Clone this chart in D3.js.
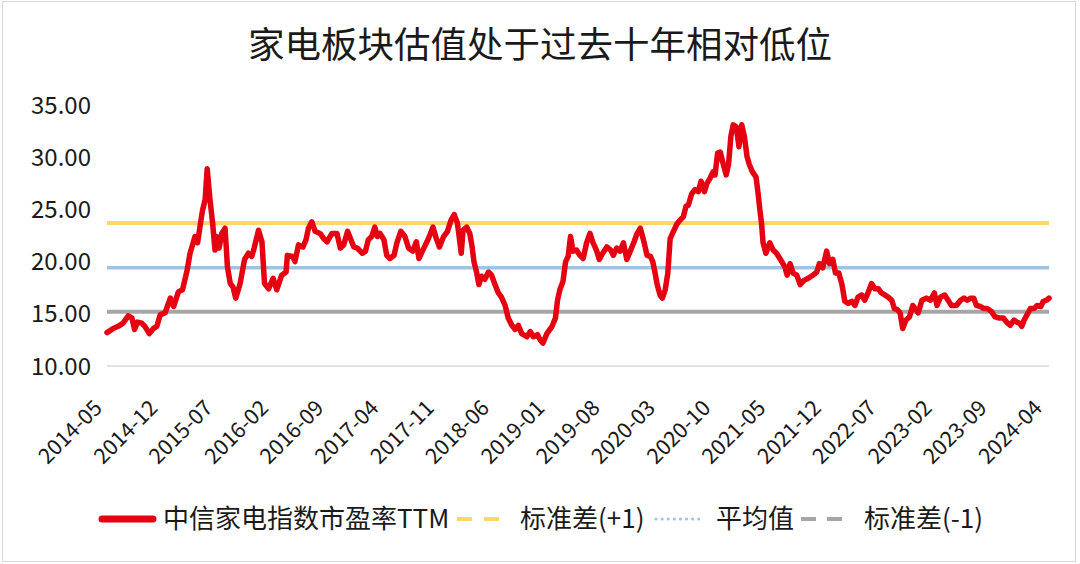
<!DOCTYPE html>
<html>
<head>
<meta charset="utf-8">
<script src="https://cdn.jsdelivr.net/npm/d3@7/dist/d3.min.js"></script>
<style>
  body { margin: 0; background: #fff; }
  text { font-family: "Noto Sans CJK SC", "Noto Sans", sans-serif; }
</style>
</head>
<body>
<div class="canvas"></div>
<script>
const title = '家电板块估值处于过去十年相对低位';

// 中信家电指数 PE(TTM)
const dates = [
  '2014-05-28','2014-06-21','2014-07-10','2014-07-29','2014-08-18','2014-09-01','2014-09-11','2014-09-22','2014-10-09','2014-10-21',
  '2014-11-07','2014-11-23','2014-12-06','2014-12-19','2015-01-07','2015-01-27','2015-02-09','2015-02-27','2015-03-15','2015-04-02',
  '2015-04-13','2015-05-02','2015-05-12','2015-05-21','2015-05-31','2015-06-10','2015-06-18','2015-06-29','2015-07-09','2015-07-18',
  '2015-07-24','2015-08-03','2015-08-13','2015-08-26','2015-09-04','2015-09-15','2015-09-25','2015-10-06','2015-10-23','2015-11-09',
  '2015-11-24','2015-12-07','2015-12-16','2016-01-02','2016-01-15','2016-01-25','2016-02-10','2016-02-27','2016-03-12','2016-03-31',
  '2016-04-17','2016-04-22','2016-05-13','2016-05-21','2016-06-04','2016-06-21','2016-07-03','2016-07-12','2016-07-25','2016-08-07',
  '2016-08-26','2016-09-09','2016-09-22','2016-10-11','2016-10-30','2016-11-12','2016-11-25','2016-12-10','2016-12-23','2017-01-03',
  '2017-01-16','2017-02-05','2017-02-17','2017-02-28','2017-03-13','2017-03-25','2017-04-04','2017-04-14','2017-04-29','2017-05-10',
  '2017-05-22','2017-06-07','2017-06-18','2017-07-03','2017-07-19','2017-08-02','2017-08-18','2017-09-01','2017-09-11','2017-09-26',
  '2017-10-12','2017-10-24','2017-11-04','2017-11-17','2017-11-29','2017-12-15','2017-12-30','2018-01-13','2018-01-25','2018-02-06',
  '2018-02-13','2018-02-21','2018-02-28','2018-03-14','2018-03-26','2018-04-04','2018-04-11','2018-04-21','2018-04-30','2018-05-10',
  '2018-05-23','2018-06-06','2018-06-18','2018-07-01','2018-07-14','2018-07-26','2018-08-09','2018-08-21','2018-09-04','2018-09-17',
  '2018-09-29','2018-10-12','2018-11-01','2018-11-14','2018-11-26','2018-12-12','2018-12-22','2019-01-02','2019-01-17','2019-02-06',
  '2019-02-19','2019-02-27','2019-03-08','2019-03-20','2019-03-30','2019-04-09','2019-04-18','2019-04-28','2019-05-11','2019-05-24',
  '2019-06-06','2019-06-19','2019-07-02','2019-07-14','2019-07-27','2019-08-07','2019-08-20','2019-09-05','2019-09-20','2019-09-30',
  '2019-10-13','2019-10-26','2019-11-08','2019-11-21','2019-12-06','2019-12-19','2019-12-29','2020-01-12','2020-01-24','2020-02-07',
  '2020-02-20','2020-02-29','2020-03-09','2020-03-17','2020-03-28','2020-04-06','2020-04-17','2020-04-27','2020-05-06','2020-05-17',
  '2020-06-01','2020-06-14','2020-06-26','2020-07-06','2020-07-15','2020-07-28','2020-08-10','2020-08-23','2020-09-02','2020-09-15',
  '2020-09-25','2020-10-07','2020-10-18','2020-10-26','2020-11-05','2020-11-15','2020-11-26','2020-12-08','2020-12-17','2020-12-26',
  '2021-01-04','2021-01-16','2021-01-26','2021-02-06','2021-02-16','2021-02-26','2021-03-07','2021-03-19','2021-04-02','2021-04-10',
  '2021-04-17','2021-04-23','2021-04-29','2021-05-10','2021-05-25','2021-06-07','2021-06-20','2021-07-05','2021-07-22','2021-07-31',
  '2021-08-11','2021-08-23','2021-09-06','2021-09-19','2021-10-04','2021-10-20','2021-11-07','2021-11-22','2021-12-02','2021-12-15',
  '2021-12-30','2022-01-10','2022-01-23','2022-02-02','2022-02-15','2022-02-27','2022-03-10','2022-03-23','2022-04-06','2022-04-18',
  '2022-04-30','2022-05-14','2022-05-26','2022-06-09','2022-06-21','2022-07-04','2022-07-17','2022-07-29','2022-08-12','2022-08-24',
  '2022-09-07','2022-09-17','2022-09-28','2022-10-09','2022-10-19','2022-11-01','2022-11-14','2022-11-27','2022-12-06','2022-12-18',
  '2023-01-01','2023-01-18','2023-02-03','2023-02-18','2023-02-28','2023-03-14','2023-03-30','2023-04-12','2023-04-25','2023-05-14',
  '2023-05-30','2023-06-12','2023-06-25','2023-07-08','2023-07-20','2023-07-30','2023-08-15','2023-08-28','2023-09-10','2023-09-27',
  '2023-10-10','2023-10-26','2023-11-11','2023-11-24','2023-12-07','2023-12-22','2024-01-02','2024-01-12','2024-01-21','2024-01-30',
  '2024-02-10','2024-02-23','2024-03-08','2024-03-20','2024-04-03','2024-04-13','2024-04-26','2024-05-05'
];
const peTTM = [
  13.2,13.6,13.8,14.1,14.8,14.6,13.5,14.2,14.1,13.8,
  13.1,13.6,13.8,14.9,15.1,16.5,15.7,17.1,17.3,19.2,
  20.8,22.4,21.8,23.3,24.9,25.9,28.9,25.9,23.7,21.1,
  22.4,21.3,22.7,23.2,19.5,17.9,17.6,16.5,17.9,20.2,
  20.8,20.5,21.3,23.0,21.9,17.9,17.4,18.4,17.3,18.7,
  19.0,20.6,20.5,20.0,21.6,21.4,22.1,23.2,23.8,22.9,
  22.7,22.2,21.9,22.7,22.7,21.3,21.6,22.9,22.1,21.4,
  21.3,20.8,21.0,22.1,22.4,23.3,22.4,22.7,22.1,20.6,
  20.3,20.6,21.8,22.9,22.4,21.3,21.0,21.9,20.3,21.1,
  21.9,22.6,23.3,22.2,21.4,22.4,22.9,24.0,24.5,23.7,
  22.4,20.8,23.0,23.3,22.7,21.4,20.0,19.0,17.8,18.6,
  18.3,19.0,18.7,17.8,17.0,16.6,15.8,14.6,13.9,13.5,
  13.9,13.1,12.8,13.3,12.8,13.0,12.5,12.2,13.1,13.8,
  14.6,16.3,17.3,18.1,20.0,20.5,22.4,21.0,21.1,20.6,
  20.3,21.8,22.7,21.8,21.1,20.2,20.8,21.4,21.1,20.6,
  21.3,21.0,21.8,20.2,21.1,21.9,22.6,23.2,22.1,20.6,
  20.5,20.0,18.9,17.8,16.8,16.5,17.3,18.9,22.2,22.8,
  23.6,24.0,24.3,25.3,25.4,26.5,26.9,26.7,27.7,26.7,
  27.5,28.0,28.6,28.3,30.4,30.5,29.4,28.3,29.3,32.0,
  33.1,32.9,31.0,33.1,32.0,30.1,29.3,28.6,28.1,26.5,
  24.9,23.7,21.8,20.8,21.8,21.1,20.8,20.2,19.5,18.7,
  19.8,18.9,18.7,17.8,18.2,18.4,18.7,19.0,19.8,19.4,
  21.0,19.8,20.2,18.9,18.9,17.8,16.2,16.0,16.2,15.8,
  16.6,16.8,16.3,17.1,17.9,17.4,17.4,17.0,16.8,16.6,
  16.3,15.5,15.4,15.1,13.6,14.4,14.7,15.8,15.5,15.1,
  16.3,16.5,16.3,17.0,15.8,16.6,16.8,16.3,15.8,15.8,
  16.3,16.5,16.3,16.5,16.5,15.8,15.7,15.5,15.5,15.2,
  14.7,14.6,14.6,14.2,13.9,14.4,14.2,14.1,13.8,14.4,
  14.9,15.5,15.5,15.8,15.7,16.2,16.3,16.5
];

const stdPlus = 23.7;   // 标准差(+1)
const meanPE = 19.4;    // 平均值
const stdMinus = 15.2;  // 标准差(-1)

const yTicks = [10, 15, 20, 25, 30, 35];
const xTickLabels = ['2014-05','2014-12','2015-07','2016-02','2016-09','2017-04','2017-11','2018-06','2019-01',
  '2019-08','2020-03','2020-10','2021-05','2021-12','2022-07','2023-02','2023-09','2024-04'];
const legendNames = ['中信家电指数市盈率TTM', '标准差(+1)', '平均值', '标准差(-1)'];

const RED = '#e50012';
const YELLOW = '#fbd66b';
const BLUE = '#9dc3e6';
const GREY = '#a6a6a6';

const width = 1080, height = 564;
const svg = d3.select('.canvas')
  .append('svg')
    .attr('width', width)
    .attr('height', height);

// outer frame
svg.append('rect')
  .attr('x', 2.5).attr('y', 1.5)
  .attr('width', 1073).attr('height', 560)
  .attr('fill', 'none')
  .attr('stroke', '#d9d9d9');

svg.append('text')
  .attr('x', 540).attr('y', 58)
  .attr('text-anchor', 'middle')
  .attr('font-size', 36.5)
  .attr('fill', '#1a1a1a')
  .text(title);

const parseDay = d3.timeParse('%Y-%m-%d');
const parseMonth = d3.timeParse('%Y-%m');
const data = dates.map((d, i) => ({date: parseDay(d), value: peTTM[i]}));

const x = d3.scaleTime()
  .domain([new Date(2014, 4, 1), new Date(2024, 4, 1)])
  .range([100, 1048]);

const y = d3.scaleLinear()
  .domain([10, 35])
  .range([366, 105]);

// y labels (no axis line)
svg.append('g')
  .selectAll('text')
  .data(yTicks)
  .enter()
  .append('text')
    .attr('x', 91)
    .attr('y', d => y(d))
    .attr('dy', '0.36em')
    .attr('text-anchor', 'end')
    .attr('font-size', 24)
    .attr('fill', '#1a1a1a')
    .text(d => d3.format('.2f')(d));

// x axis line
const xExtent = d3.extent(data, d => d.date);
svg.append('line')
  .attr('x1', x(xExtent[0])).attr('x2', x(xExtent[1]))
  .attr('y1', y(10)).attr('y2', y(10))
  .attr('stroke', '#d9d9d9')
  .attr('stroke-width', 1.5);

// x labels, rotated
svg.append('g')
  .selectAll('text')
  .data(xTickLabels)
  .enter()
  .append('text')
    .attr('transform', d => `translate(${x(parseMonth(d)) - 2},${404}) rotate(-45)`)
    .attr('text-anchor', 'end')
    .attr('dy', '0.35em')
    .attr('font-size', 21.5)
    .attr('fill', '#1a1a1a')
    .text(d => d);

// reference lines
const refs = [
  {v: stdPlus, color: YELLOW, w: 4},
  {v: meanPE, color: BLUE, w: 3.5},
  {v: stdMinus, color: GREY, w: 4}
];
svg.append('g')
  .selectAll('line')
  .data(refs)
  .enter()
  .append('line')
    .attr('x1', x(xExtent[0])).attr('x2', x(xExtent[1]))
    .attr('y1', d => y(d.v)).attr('y2', d => y(d.v))
    .attr('stroke', d => d.color)
    .attr('stroke-width', d => d.w);

const line = d3.line()
  .x(d => x(d.date))
  .y(d => y(d.value));

svg.append('path')
  .datum(data)
  .attr('d', line)
  .attr('fill', 'none')
  .attr('stroke', RED)
  .attr('stroke-width', 5.5)
  .attr('stroke-linejoin', 'round')
  .attr('stroke-linecap', 'round');

// legend
const legendY = 519;
const legendItems = [
  {name: legendNames[0], color: RED, x1: 102, x2: 153, w: 7, dash: null, cap: 'round', tx: 163},
  {name: legendNames[1], color: YELLOW, x1: 457, x2: 500, w: 4, dash: '15,12', cap: 'butt', tx: 520},
  {name: legendNames[2], color: BLUE, x1: 656, x2: 703, w: 3, dash: '0.1,6', cap: 'round', tx: 716},
  {name: legendNames[3], color: GREY, x1: 801, x2: 842, w: 4, dash: '15,11', cap: 'butt', tx: 864}
];
const legend = svg.append('g');
legend.selectAll('line')
  .data(legendItems)
  .enter()
  .append('line')
    .attr('x1', d => d.x1).attr('x2', d => d.x2)
    .attr('y1', legendY).attr('y2', legendY)
    .attr('stroke', d => d.color)
    .attr('stroke-width', d => d.w)
    .attr('stroke-dasharray', d => d.dash)
    .attr('stroke-linecap', d => d.cap);
legend.selectAll('text')
  .data(legendItems)
  .enter()
  .append('text')
    .attr('x', d => d.tx)
    .attr('y', legendY)
    .attr('dy', '0.36em')
    .attr('font-size', 26)
    .attr('fill', '#1a1a1a')
    .text(d => d.name);
</script>
</body>
</html>
